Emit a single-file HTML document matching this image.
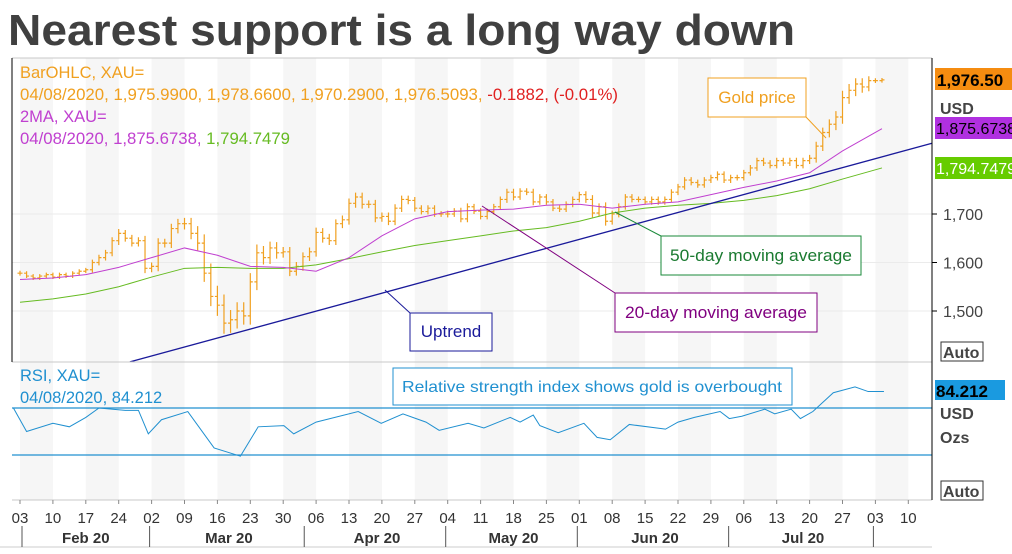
<!DOCTYPE html>
<html><head><meta charset="utf-8">
<style>
html,body{margin:0;padding:0;background:#fff;}
body{width:1012px;height:549px;overflow:hidden;font-family:"Liberation Sans",sans-serif;}
svg text{font-family:"Liberation Sans",sans-serif;}
</style></head>
<body>
<svg id="chart" width="1012" height="549" viewBox="0 0 1012 549" xmlns="http://www.w3.org/2000/svg">
<text x="8" y="45" font-size="44" font-weight="bold" fill="#404040" textLength="787" lengthAdjust="spacingAndGlyphs">Nearest support is a long way down</text>
<g id="bg"></g>
<g id="grid"></g>
<g id="marks"></g>
<g id="frame"></g>
<g id="labels"></g>
</svg>
<script>
// ---- data ----
const weekLabels=["03","10","17","24","02","09","16","23","30","06","13","20","27","04","11","18","25","01","08","15","22","29","06","13","20","27","03","10"];
const monthLabels=["Feb 20","Mar 20","Apr 20","May 20","Jun 20","Jul 20"];
const monthStartWeek=[0,4,8.7,13,17,21.6,26];
const closes=[1578,1572,1568,1572,1575, 1570,1575,1572,1578,1582, 1585,1600,1610,1620,1645,
1660,1650,1640,1645,1588, 1592,1640,1640,1670,1680, 1680,1660,1640,1578,1530,
1512,1475,1482,1500,1490, 1560,1620,1610,1630,1620, 1622,1582,1592,1612,1622,
1662,1650,1645,1680,1688, 1722,1735,1720,1720,1692, 1695,1685,1712,1730,1728,
1712,1705,1712,1700,1700, 1700,1706,1690,1715,1706, 1695,1705,1715,1730,1745,
1735,1747,1745,1725,1735, 1725,1712,1710,1720,1730, 1740,1730,1702,1715,1685,
1700,1715,1735,1730,1730, 1725,1730,1725,1730,1745, 1756,1770,1765,1760,1770,
1775,1782,1770,1775,1775, 1785,1795,1810,1805,1800, 1810,1805,1810,1800,1810,
1815,1840,1868,1885,1900, 1940,1955,1968,1962,1975, 1975,1976.5];
const wicks=[10,8,8,8,8, 8,8,8,8,8, 8,12,12,12,14, 18,14,14,14,20, 16,20,18,20,20,
24,24,30,36,40, 44,44,40,36,36, 36,34,28,26,24, 20,20,18,18,18, 20,18,18,18,18,
20,18,18,16,18, 16,16,16,16,16, 14,12,12,12,12, 14,12,14,14,12, 12,12,12,12,14,
14,12,12,14,12, 12,12,12,12,12, 12,14,18,14,18, 14,14,12,12,12, 12,12,12,12,12, 12,12,12,12,12,
12,12,12,12,12, 12,12,12,12,12, 12,12,12,12,12, 14,18,20,20,24, 28,26,24,24,18, 10,8];
const maWeeks=[0,1,2,3,4,5,6,7,8,9,10,11,12,13,14,15,16,17,18,19,20,21,22,23,24,25,26.2];
const ma20=[1565,1568,1575,1590,1610,1630,1615,1592,1590,1582,1610,1655,1690,1705,1708,1710,1718,1720,1712,1720,1725,1740,1755,1768,1785,1830,1876];
const ma50=[1518,1525,1535,1550,1570,1588,1590,1588,1588,1595,1608,1622,1635,1645,1655,1665,1672,1685,1702,1712,1718,1722,1728,1738,1752,1772,1795];
const trendDays=[16.7,138.6];
const trendPrices=[1395,1846];
const rsiDays=[-1,1,5,7.5,10,12,16,18,19.5,21.5,25.5,29.5,33.5,36.2,40.1,41.6,45,51.4,54.9,58.2,61.7,63.7,68.1,70.5,74.5,76,78,79,81.8,85.7,87.7,89.7,92.6,98.1,100,102.5,106.4,107.8,109.7,113.2,114.7,117.2,118.6,120.5,123.6,126.9,128.9,131.3];
const rsiValues=[70,50,57,54,62,70,68,68,48,60,67,36,29,54,55,48,58,67,57,65,58,51,57,53,62,58,64,55,49,57,45,43,56,52,58,62,67,61,63,69,65,69,61,67,83,88,84,84];
const priceTicks=[1500,1600,1700];
const rsiLevels=[70,30];

// ---- scales ----
const X0=20, WEEK=32.9, DAY=WEEK/5;
const xd=d=>X0+d*DAY;
const xw=w=>X0+w*WEEK;
const yp=p=>214-(p-1700)*0.485;
const yr=r=>408-(r-70)*1.175;
const NS="http://www.w3.org/2000/svg";
function mk(parent,tag,attrs){const e=document.createElementNS(NS,tag);for(const k in attrs)e.setAttribute(k,attrs[k]);document.getElementById(parent).appendChild(e);return e;}

for(let k=0;k<weekLabels.length;k+=2){
  const r=mk('bg','rect',{x:xw(k),y:58,width:WEEK,height:442,fill:'#f6f6f6'});
  
  
}
priceTicks.forEach(p=>{const l=mk('grid','line',{x1:12,x2:932,y1:yp(p),y2:yp(p),stroke:'#ebebeb','stroke-width':1});

});
closes.forEach((c,i)=>{
  const o=i>0?closes[i-1]:c;
  const hi=Math.max(o,c)+wicks[i]*0.5, lo=Math.min(o,c)-wicks[i]*0.5;
  const x=xd(i);
  const g=mk('marks','path',{d:`M${x},${yp(hi)}V${yp(lo)}M${x-2.5},${yp(o)}H${x}M${x},${yp(c)}H${x+2.5}`,stroke:'#f0a020','stroke-width':1.2,fill:'none'});
  
  
});
function poly(xs,ys,fx,fy,col,name,sw){
  const pts=xs.map((v,i)=>fx(v)+','+fy(ys[i])).join(' ');
  const p=mk('marks','polyline',{points:pts,fill:'none',stroke:col,'stroke-width':sw||1});
  
  
}
poly(maWeeks,ma50,xw,yp,'#66bb22','ma50-line');
poly(maWeeks,ma20,xw,yp,'#c040d0','ma20-line');
poly(trendDays,trendPrices,xd,yp,'#1a1a9a','uptrend-line',1.3);
rsiLevels.forEach(r=>{const l=mk('marks','line',{x1:12,x2:932,y1:yr(r),y2:yr(r),stroke:'#2090d0','stroke-width':1.2});

});
poly(rsiDays,rsiValues,d=>Math.max(12,xd(d)),yr,'#2090d0','rsi-line');

[[12,58,932,58],[12,362,932,362],[12,500,932,500]].forEach(a=>{
  const l=mk('frame','line',{x1:a[0],y1:a[1],x2:a[2],y2:a[3],stroke:'#c8c8c8','stroke-width':1});
  
  
});
mk('frame','line',{x1:12,y1:58,x2:12,y2:362,stroke:'#000'});
mk('frame','line',{x1:932,y1:58,x2:932,y2:500,stroke:'#000'});
mk('frame','line',{x1:0,y1:547,x2:932,y2:547,stroke:'#ccc'});
weekLabels.forEach((t,k)=>{
  const e=mk('labels','text',{x:xw(k),y:523,'font-size':15,fill:'#333','text-anchor':'middle'});
  e.textContent=t;
  
  
  mk('labels','line',{x1:xw(k),x2:xw(k),y1:500,y2:504,stroke:'#888'});
});
monthLabels.forEach((m,i)=>{
  const a=xw(monthStartWeek[i]), b=xw(monthStartWeek[i+1]);
  const e=mk('labels','text',{x:(a+b)/2,y:543,'font-size':15,'font-weight':'bold',fill:'#333','text-anchor':'middle'});
  e.textContent=m;
  
  
  mk('labels','line',{x1:b-2,x2:b-2,y1:526,y2:547,stroke:'#555'});
});
mk('labels','line',{x1:22,x2:22,y1:526,y2:547,stroke:'#555'});
priceTicks.forEach(p=>{
  mk('labels','line',{x1:932,x2:937,y1:yp(p),y2:yp(p),stroke:'#000'});
  const e=mk('labels','text',{x:943,y:yp(p)+6,'font-size':16,fill:'#444'});
  e.textContent=p.toLocaleString('en-US');
  
  
});
</script>
<svg width="1012" height="549" style="position:absolute;left:0;top:0">
<g font-size="16.5">
<text x="20" y="78" fill="#f0a020">BarOHLC, XAU=</text>
<text x="20" y="100" fill="#f0a020" textLength="598" lengthAdjust="spacingAndGlyphs">04/08/2020, 1,975.9900, 1,978.6600, 1,970.2900, 1,976.5093, <tspan fill="#e02020">-0.1882, (-0.01%)</tspan></text>
<text x="20" y="122" fill="#c040d0">2MA, XAU=</text>
<text x="20" y="144" fill="#c040d0" textLength="270" lengthAdjust="spacingAndGlyphs">04/08/2020, 1,875.6738, <tspan fill="#66bb22">1,794.7479</tspan></text>
<text x="20" y="381" fill="#2090d0">RSI, XAU=</text>
<text x="20" y="403" fill="#2090d0">04/08/2020, 84.212</text>
</g>
<g>
<rect x="935" y="68" width="77" height="22" fill="#f58c10"/>
<text x="937" y="86" font-size="17" font-weight="bold" fill="#000">1,976.50</text>
<text x="940" y="114" font-size="16" font-weight="bold" fill="#444">USD</text>
<rect x="935" y="117" width="77" height="22" fill="#b030e0"/>
<text x="936" y="134" font-size="16" fill="#000">1,875.6738</text>
<rect x="935" y="157" width="77" height="22" fill="#66cc00"/>
<text x="936" y="174" font-size="16" fill="#fff">1,794.7479</text>
<rect x="941" y="342" width="42" height="19" fill="#fff" stroke="#333"/>
<text x="943" y="358" font-size="16" font-weight="bold" fill="#444">Auto</text>
<rect x="935" y="380" width="70" height="20" fill="#1a9ae0"/>
<text x="936" y="397" font-size="17" font-weight="bold" fill="#000">84.212</text>
<text x="940" y="419" font-size="16" font-weight="bold" fill="#444">USD</text>
<text x="940" y="443" font-size="16" font-weight="bold" fill="#444">Ozs</text>
<rect x="941" y="481" width="42" height="19" fill="#fff" stroke="#333"/>
<text x="943" y="497" font-size="16" font-weight="bold" fill="#444">Auto</text>
</g>
<g font-size="17">
<line x1="806" y1="117" x2="826" y2="138" stroke="#f0a020"/>
<rect x="708" y="78" width="98" height="39" fill="#fff" stroke="#f0a020"/>
<text x="757" y="103" text-anchor="middle" fill="#f0a020">Gold price</text>
<line x1="661" y1="236" x2="615" y2="212" stroke="#1a8a3a"/>
<rect x="661" y="236" width="200" height="39" fill="#fff" stroke="#1a8a3a"/>
<text x="761" y="261" text-anchor="middle" fill="#1a7a30" textLength="182" lengthAdjust="spacingAndGlyphs">50-day moving average</text>
<line x1="615" y1="293" x2="482" y2="206" stroke="#800080"/>
<rect x="615" y="293" width="202" height="39" fill="#fff" stroke="#800080"/>
<text x="716" y="318" text-anchor="middle" fill="#800080" textLength="182" lengthAdjust="spacingAndGlyphs">20-day moving average</text>
<line x1="410" y1="313" x2="385" y2="290" stroke="#1a1a9a"/>
<rect x="410" y="313" width="82" height="38" fill="#fff" stroke="#1a1a9a"/>
<text x="451" y="337" text-anchor="middle" fill="#1a1a9a">Uptrend</text>
<rect x="393" y="368" width="399" height="37" fill="#fff" stroke="#2090d0"/>
<text x="592" y="392" text-anchor="middle" fill="#2090d0" font-size="16" textLength="380" lengthAdjust="spacingAndGlyphs">Relative strength index shows gold is overbought</text>
</g>
</svg>
</body></html>
